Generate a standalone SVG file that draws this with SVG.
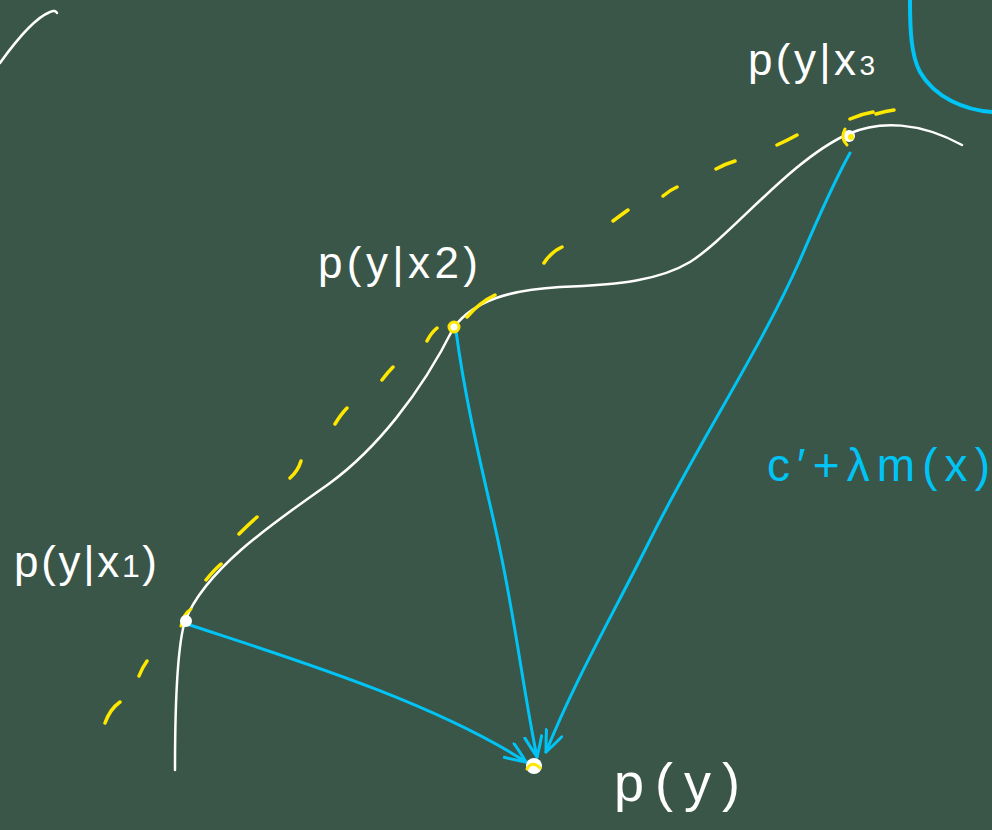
<svg xmlns="http://www.w3.org/2000/svg" width="992" height="830" viewBox="0 0 992 830">
<style>
.bg{fill:#3a5648}
.chalk{fill:none;stroke:#ffffff;stroke-width:2.5;stroke-linecap:round;stroke-linejoin:round}
.guide{fill:none;stroke:#ffe800;stroke-width:3.5;stroke-linecap:round}
.conn{fill:none;stroke:#00c4f5;stroke-width:3;stroke-linecap:round;stroke-linejoin:round}
.lbl{font-family:"Liberation Sans","DejaVu Sans",sans-serif;font-size:44px;fill:#ffffff}
.blue{fill:#00c4f5}
.dot{fill:#ffffff}
.ring{fill:none;stroke:#ffe800;stroke-width:3;stroke-linecap:round}
</style>
<defs>
<marker id="chev" viewBox="0 0 24 20" refX="22" refY="10" markerWidth="24" markerHeight="20" markerUnits="userSpaceOnUse" orient="auto">
<path d="M2,1 Q14,6 22,10 Q12,14 1,18" fill="none" stroke="#00c4f5" stroke-width="3" stroke-linecap="round" stroke-linejoin="round"/>
</marker>
</defs>
<rect class="bg" x="0" y="0" width="992" height="830"/>

<g id="decor">
<path class="chalk" d="M0,63 C15,42 35,18 50,12 C54,10 56,11 57,13"/>
<path d="M910,0 C910,30 911,55 920,72 C935,98 965,110 992,112" fill="none" stroke="#00c4f5" stroke-width="4" stroke-linecap="round"/>
</g>

<g id="curve">
<path class="chalk" d="M175,770 C175,720 176,650 185,621 C205,570 270,525 330,483 C375,450 420,395 454,327 C475,300 510,290 560,287 C620,285 660,280 690,262 C730,237 790,160 848,134 C880,120 920,122 962,145"/>
</g>

<g id="guide">
<path class="guide" d="M105,723 Q110,709 120,702 M139,676 Q142,668 147,661 M206,580 Q214,570 221,564 M239,534 Q249,524 257,517 M290,478 Q298,471 301,461 M335,424 Q341,414 347,408 M382,380 Q388,372 393,367 M427,341 Q431,333 437,328 M467,317 Q480,302 495,295 M544,263 Q551,252 562,247 M613,221 Q621,215 628,210 M663,196 Q670,190 677,187 M716,169 Q725,164 735,161 M777,145 Q788,140 797,135 M850,119 Q861,114 873,112 M876,114 Q886,111 894,110"/>
</g>

<g id="connectors">
<path class="conn" d="M187,624 C280,655 430,700 526,762" marker-end="url(#chev)"/>
<path class="conn" d="M456,331 C468,420 490,500 500,550 C515,620 525,700 537,757" marker-end="url(#chev)"/>
<path class="conn" d="M850,153 C835,180 815,225 800,260 C760,350 700,440 650,540 C610,620 575,680 546,752" marker-end="url(#chev)"/>
</g>

<g id="p1">
<path class="ring" d="M191,609 Q183,614 181,626"/>
<circle class="dot" cx="186" cy="621" r="6"/>
<text class="lbl" x="14" y="577" textLength="143" lengthAdjust="spacing">p(y|x<tspan style="font-size:32px">1</tspan>)</text>
</g>

<g id="p2">
<circle cx="454" cy="327" r="5" fill="#ffffff" stroke="#ffe800" stroke-width="3"/>
<text class="lbl" x="318" y="278" textLength="160" lengthAdjust="spacing">p(y|x2)</text>
</g>

<g id="p3">
<circle class="dot" cx="849" cy="136" r="6"/>
<circle cx="851" cy="137" r="3" fill="#ffe800"/>
<path class="ring" d="M845,129 Q840,138 847,145"/>
<text class="lbl" x="748" y="75" textLength="127" lengthAdjust="spacing">p(y|x<tspan style="font-size:28px">3</tspan></text>
</g>

<g id="py">
<circle class="dot" cx="534" cy="766" r="8"/>
<path class="ring" d="M527,769 Q532,760 540,768"/>
<text class="lbl" x="614" y="801" style="font-size:54px" textLength="126" lengthAdjust="spacing">p(y)</text>
</g>

<g id="formula">
<text class="lbl blue" x="767" y="481" style="font-size:46px" textLength="223" lengthAdjust="spacing">c′+λm(x)</text>
</g>
</svg>
